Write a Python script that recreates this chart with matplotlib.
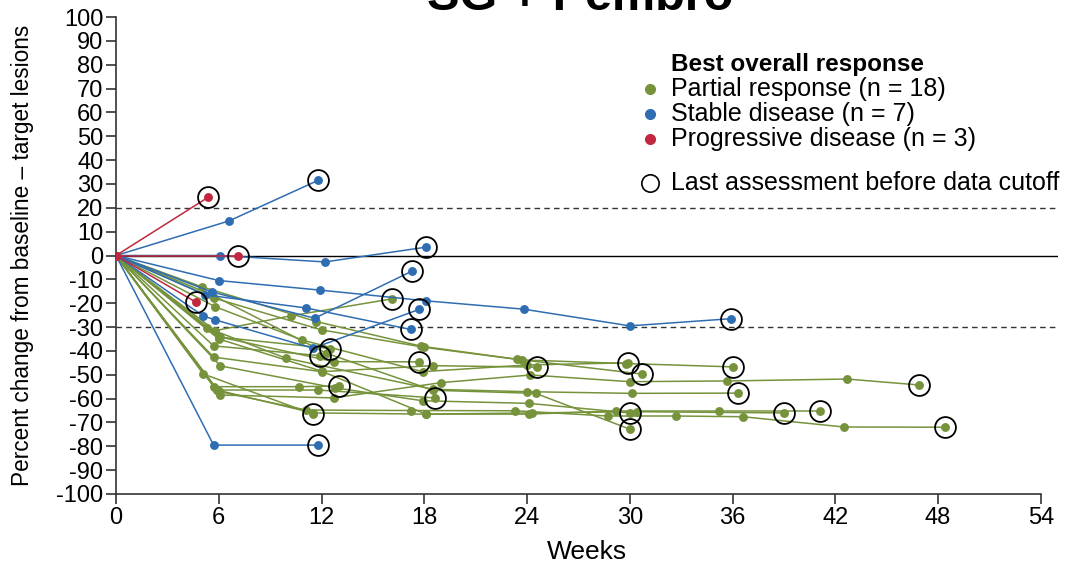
import matplotlib
matplotlib.use("Agg")
import matplotlib.pyplot as plt
from matplotlib.lines import Line2D

plt.rcParams['font.family'] = ['Liberation Sans', 'DejaVu Sans']
plt.rcParams['axes.unicode_minus'] = False

# ---------------- data ----------------
# Partial response (n = 18): weeks and percent change per patient (last point = last assessment)
pr_weeks = [
    [0, 5.8, 10.2, 16.1],
    [0, 6.0, 12.5],
    [0, 5.7, 11.9],
    [0, 5.7, 10.7, 13.0],
    [0, 5.1, 11.5],
    [0, 6.1, 12.7, 17.7],
    [0, 5.9, 11.8, 18.6],
    [0, 6.1, 12.7, 19.0, 24.2, 30.0, 35.7, 42.7, 46.9],
    [0, 6.0, 11.1, 17.2, 23.3, 28.7, 32.7, 36.6, 42.5, 48.4],
    [0, 5.9, 11.5, 18.1, 24.1, 29.2, 35.2, 41.1],
    [0, 6.0, 12.0, 18.1, 24.3, 30.4, 39.0],
    [0, 5.6, 12.3, 18.5, 24.5, 30.0],
    [0, 6.1, 12.8, 17.9, 24.1, 30.0],
    [0, 5.3, 9.9, 18.5, 24.0, 30.1, 36.3],
    [0, 5.7, 12.0, 18.0, 23.7, 29.8, 36.0],
    [0, 5.8, 10.85, 17.9, 24.0, 29.9],
    [0, 5.0, 11.7, 17.8, 23.4, 30.7],
    [0, 5.7, 12.0, 18.5, 24.6],
]
pr_pct = [
    [0, -31.5, -25.3, -18.2],
    [0, -34.2, -39.0],
    [0, -37.9, -42.0],
    [0, -55.0, -55.0, -54.7],
    [0, -49.7, -66.5],
    [0, -34.2, -44.5, -44.6],
    [0, -56.4, -56.4, -59.7],
    [0, -58.5, -59.7, -53.3, -50.1, -52.9, -52.6, -51.8, -54.3],
    [0, -57.0, -64.8, -65.0, -65.1, -67.3, -67.3, -67.6, -71.9, -72.0],
    [0, -56.4, -66.0, -66.5, -66.5, -65.2, -65.2, -65.2],
    [0, -35.0, -48.5, -66.5, -66.0, -65.5, -66.0],
    [0, -16.5, -41.0, -56.5, -57.8, -72.8],
    [0, -46.3, -55.5, -60.9, -62.0, -66.0],
    [0, -30.3, -43.0, -56.1, -57.1, -57.8, -57.7],
    [0, -17.8, -31.2, -38.5, -43.8, -45.3, -46.7],
    [0, -21.5, -35.4, -48.7, -45.9, -45.0],
    [0, -13.1, -27.7, -38.0, -43.5, -49.7],
    [0, -42.6, -48.7, -46.2, -46.8],
]

# Stable disease (n = 7)
sd_weeks = [
    [0, 6.6, 11.8],
    [0, 6.1, 12.2, 18.1],
    [0, 6.0, 11.9, 18.1, 23.8, 30.0, 35.9],
    [0, 5.2, 11.1, 17.2],
    [0, 5.6, 11.6, 17.3],
    [0, 5.1, 5.8, 11.5, 17.7],
    [0, 5.7, 11.8],
]
sd_pct = [
    [0, 14.5, 31.5],
    [0, 0.0, -2.7, 3.5],
    [0, -10.5, -14.5, -19.0, -22.5, -29.5, -26.5],
    [0, -16.5, -22.0, -31.0],
    [0, -15.3, -26.3, -6.5],
    [0, -25.4, -27.0, -38.9, -22.6],
    [0, -79.5, -79.5],
]

# Progressive disease (n = 3)
pd_weeks = [
    [0, 5.4],
    [0, 7.1],
    [0, 4.7],
]
pd_pct = [
    [0, 24.5],
    [0, 0.0],
    [0, -19.7],
]

x_ticks = [0, 6, 12, 18, 24, 30, 36, 42, 48, 54]
y_ticks = list(range(-100, 101, 10))
ref_lines = [20, -30]

legend_labels = ["Partial response (n = 18)", "Stable disease (n = 7)",
                 "Progressive disease (n = 3)"]

GREEN = '#76933c'
BLUE = '#2f6db3'
RED = '#c1283f'

# ---------------- figure ----------------
fig = plt.figure(figsize=(10.69, 5.65), dpi=100)
ax = fig.add_axes([116/1069, 71/565, (1058-116)/1069, (494-17)/565])

ax.set_xlim(0, 55)
ax.set_ylim(-100, 100)

ax.axhline(0, color='black', lw=1.0, zorder=1)
for r in ref_lines:
    ax.axhline(r, color='#333333', lw=1.0, ls=(0, (4, 3)), zorder=1)

def draw_group(weeks, pct, color, z):
    for w, p in zip(weeks, pct):
        ax.plot(w, p, color=color, lw=1.1, zorder=z, solid_capstyle='round')
        ax.plot(w, p, ls='none', marker='o', ms=6.4, mfc=color, mec=color,
                mew=0, zorder=z + 0.5)
    for w, p in zip(weeks, pct):
        ax.plot(w[-1], p[-1], ls='none', marker='o', ms=15, mfc='none',
                mec='black', mew=1.3, zorder=10)

draw_group(pr_weeks, pr_pct, GREEN, 2)
draw_group(sd_weeks, sd_pct, BLUE, 4)
draw_group(pd_weeks, pd_pct, RED, 6)

for s in ['top', 'right']:
    ax.spines[s].set_visible(False)
ax.spines['bottom'].set_bounds(0, 54)
for s in ['left', 'bottom']:
    ax.spines[s].set_linewidth(1.2)
    ax.spines[s].set_color('#333333')

ax.set_xticks(x_ticks)
ax.set_yticks(y_ticks)
ax.tick_params(axis='both', direction='out', length=7, width=1.2,
               color='#333333', labelsize=17, pad=2)
ax.set_xlabel("Weeks", fontsize=19, labelpad=8)
ax.set_ylabel("Percent change from baseline \u2013 target lesions",
              fontsize=16.3, labelpad=16)

# title (partially cut off at the top as in the reference)
fig.text(580/1069, (565-10)/565, "SG + Pembro", ha='center', va='baseline',
         fontsize=35, fontweight='bold')

# legend
fig.text(671/1069, 1 - 65/565, "Best overall response", ha='left',
         va='center', fontsize=17.5, fontweight='bold')
for lab, col, yp in zip(legend_labels, [GREEN, BLUE, RED], [89, 114, 139]):
    fig.lines.append(Line2D([650/1069], [1 - yp/565], ls='none', marker='o',
                            ms=8, mfc=col, mec=col, mew=0,
                            transform=fig.transFigure))
    fig.text(671/1069, 1 - yp/565, lab, ha='left', va='center', fontsize=18)
fig.lines.append(Line2D([650/1069], [1 - 183/565], ls='none', marker='o',
                        ms=12.5, mfc='none', mec='black', mew=1.2,
                        transform=fig.transFigure))
fig.text(671/1069, 1 - 183/565, "Last assessment before data cutoff",
         ha='left', va='center', fontsize=18)

fig.savefig("out.png", dpi=100)
